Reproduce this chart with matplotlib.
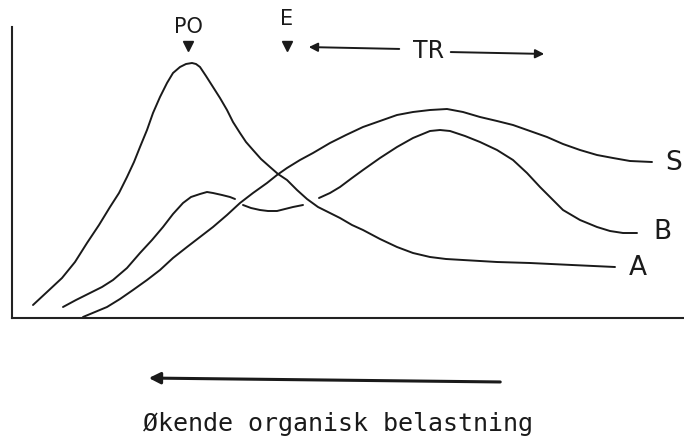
import numpy as np
import matplotlib.pyplot as plt

a_x = [33, 47, 62, 75, 87, 99, 110, 119, 127, 134, 140, 147, 153, 160, 167, 173, 180, 186,
       192, 196, 200, 206, 213, 220, 227, 233, 240, 246, 253, 261, 270, 278, 287, 297, 307,
       318, 330, 340, 352, 363, 380, 397, 413, 430, 446, 463, 497, 530, 572, 615]
a_y = [305, 292, 278, 262, 243, 225, 207, 193, 177, 162, 147, 130, 113, 97, 83, 73, 67, 64,
       63, 64, 67, 76, 87, 98, 110, 122, 133, 142, 150, 159, 167, 174, 180, 190, 199,
       207, 213, 218, 225, 230, 239, 247, 253, 257, 259, 260, 262, 263, 265, 267]

b_x = [63, 76, 90, 102, 113, 127, 140, 152, 163, 173, 183, 191, 200, 207, 213, 222, 230, 235,
       238, 243, 251, 260, 268, 277, 285, 293, 303, 311, 319, 330, 340, 352, 363, 380, 397,
       413, 430, 440, 450, 465, 480, 497, 513, 527, 540, 552, 563, 580, 597, 610, 623, 637]
b_y = [307, 300, 293, 287, 280, 268, 253, 240, 227, 214, 203, 197, 194, 192, 193, 195, 197, 199,
       np.nan, 205, 208, 210, 211, 211, 209, 207, 205, np.nan, 198, 193, 187, 178, 170, 158, 147,
       138, 131, 130, 131, 136, 142, 150, 160, 173, 187, 199, 210, 220, 227, 231, 233, 233]

s_x = [83, 95, 107, 120, 133, 147, 160, 173, 187, 200, 213, 227, 240, 253, 267, 277, 287, 300,
       313, 330, 346, 363, 380, 397, 413, 430, 447, 463, 480, 497, 513, 530, 547, 563, 580,
       597, 613, 630, 652]
s_y = [317, 312, 307, 299, 290, 280, 270, 258, 247, 237, 227, 215, 203, 193, 183, 175, 168, 160,
       153, 143, 135, 127, 121, 115, 112, 110, 109, 112, 117, 121, 125, 131, 137, 144, 150,
       155, 158, 161, 162]

curve_labels = ["A", "B", "S"]
label_x = [629, 653, 665]
label_y = [268, 232, 163]

markers = ["PO", "E"]
marker_x = [188, 287]
marker_text_y = [37, 29]

fig = plt.figure(figsize=(6.84, 4.46), dpi=100)
ax = fig.add_axes([12 / 684, 1 - 318 / 446, 672 / 684, (318 - 27) / 446])
ax.set_xlim(12, 684)
ax.set_ylim(318, 27)
for side in ("top", "right"):
    ax.spines[side].set_visible(False)
for side in ("left", "bottom"):
    ax.spines[side].set_linewidth(1.5)
    ax.spines[side].set_color("#222222")
ax.set_xticks([])
ax.set_yticks([])

ink = "#1a1a1a"
for xs, ys in ((a_x, a_y), (b_x, b_y), (s_x, s_y)):
    ax.plot(xs, ys, color=ink, lw=1.4, solid_capstyle="round", solid_joinstyle="round")

for name, lx, ly in zip(curve_labels, label_x, label_y):
    ax.text(lx, ly, name, fontsize=19, ha="left", va="center", color=ink,
            fontfamily="DejaVu Sans", clip_on=False)

# top markers
for name, mx, ty in zip(markers, marker_x, marker_text_y):
    ax.text(mx, ty, name, fontsize=15, ha="center", va="bottom", color=ink, clip_on=False)
    ax.plot([mx], [46], marker="v", color=ink, ms=6.5, clip_on=False)

ax.text(429, 51, "TR", fontsize=17, ha="center", va="center", color=ink, clip_on=False)
ax.annotate("", xy=(306, 47), xytext=(402, 49),
            arrowprops=dict(arrowstyle="-|>", color=ink, lw=1.4, mutation_scale=13),
            annotation_clip=False)
ax.annotate("", xy=(547, 54), xytext=(448, 52),
            arrowprops=dict(arrowstyle="-|>", color=ink, lw=1.4, mutation_scale=13),
            annotation_clip=False)

# bottom arrow and caption
ax.annotate("", xy=(146, 378), xytext=(503, 382),
            arrowprops=dict(arrowstyle="-|>", color=ink, lw=2.2, mutation_scale=17),
            annotation_clip=False)
ax.text(338, 424, "Økende organisk belastning", fontsize=18, ha="center", va="center",
        fontfamily="DejaVu Sans Mono", color=ink, clip_on=False)

fig.savefig("out.png", dpi=100)
